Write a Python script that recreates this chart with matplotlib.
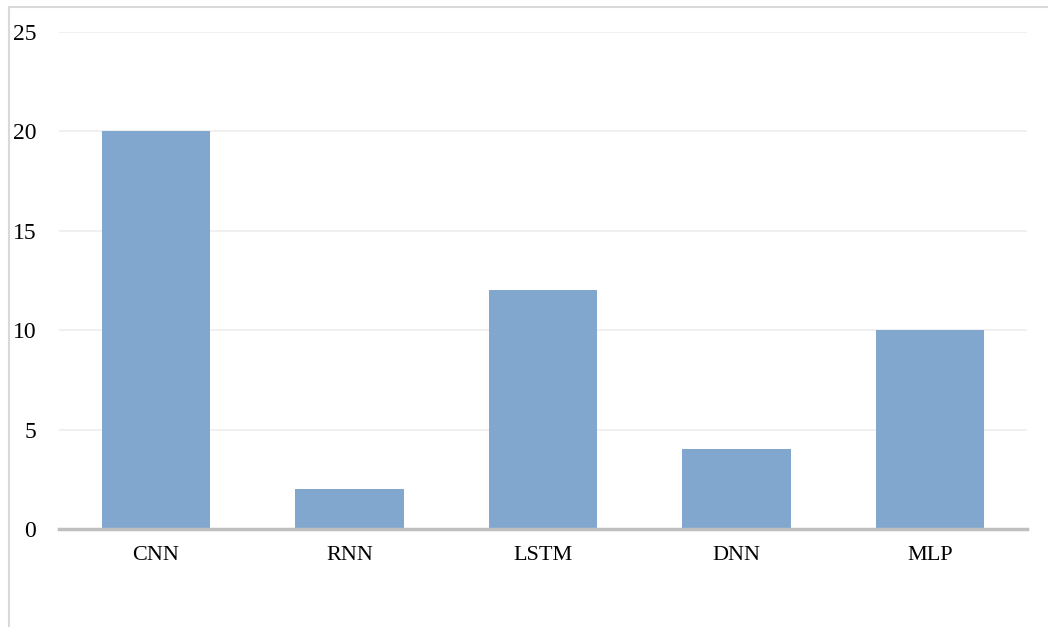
import matplotlib.pyplot as plt
from matplotlib.patches import Rectangle

# data
models = ['CNN', 'RNN', 'LSTM', 'DNN', 'MLP']
counts = [20, 2, 12, 4, 10]
yticks = [0, 5, 10, 15, 20, 25]

plt.rcParams['font.family'] = ['Liberation Serif', 'DejaVu Serif']

fig = plt.figure(figsize=(10.48, 6.27), dpi=100)
ax = fig.add_axes([59/1048, 1-529/627, (1027-59)/1048, (529-32)/627])

x = range(len(models))
ax.bar(x, counts, width=0.56, color='#82a7cf', zorder=2)

ax.set_xlim(-0.5, len(models)-0.5)
ax.set_ylim(0, 25)
ax.set_yticks(yticks)
ax.set_xticks(list(x))
ax.set_xticklabels(models, fontsize=16)
ax.tick_params(axis='y', labelsize=17, length=0, pad=16.5)
ax.tick_params(axis='x', length=0, pad=12)

ax.grid(axis='y', color='#eeeeee', linewidth=1.2, zorder=0)
for s in ['top', 'right', 'left']:
    ax.spines[s].set_visible(False)
ax.spines['bottom'].set_color('#bfbfbf')
ax.spines['bottom'].set_linewidth(2.5)
ax.spines['bottom'].set_zorder(3)

# outer frame (only top and left visible in the crop)
fig.add_artist(Rectangle((8.5/1048, -0.1), 1.2, 1.1 - 6.5/627, transform=fig.transFigure,
                         fill=False, edgecolor='#d9d9d9', linewidth=1.5))

fig.savefig('out.png', dpi=100)
